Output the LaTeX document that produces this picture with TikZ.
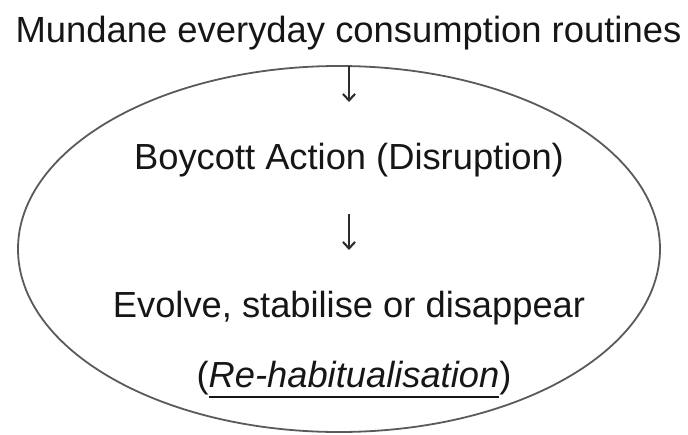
\documentclass[tikz,border=0pt]{standalone}
\usepackage{fontspec}
\setmainfont{Liberation Sans}
\usetikzlibrary{arrows.meta,shapes.geometric}
\definecolor{ink}{HTML}{161616}
\definecolor{rim}{HTML}{5A5A5A}
\newcommand\thickul[1]{\vtop{\hbox{#1}\kern8.5pt\hrule height 2.2pt}}
\begin{document}
\begin{tikzpicture}[x=1pt,y=-1pt,
  lbl/.style={anchor=base,inner sep=0pt,text=ink,font=\fontsize{36.3}{40}\selectfont},
  ttl/.style={anchor=base,inner sep=0pt,text=ink,font=\fontsize{36.4}{42}\selectfont},
  rimline/.style={draw=rim,line width=1.8pt},
  dnarrow/.style={draw=ink!90,line width=2.1pt,-{Straight Barb[length=6.5pt,width=12pt,line width=2.1pt]}}]
\useasboundingbox (0,0) rectangle (688,434);
\node[ellipse,rimline,minimum width=642pt,minimum height=366pt,inner sep=0pt] (ell) at (339,249) {};
\node[ttl] (title) at (348.5,42) {Mundane everyday consumption routines};
\node[lbl] (boy) at (349,169) {Boycott Action (Disruption)};
\node[lbl] (evo) at (349,317) {Evolve, stabilise or disappear};
\node[lbl] (reh) at (354,387) {(\thickul{\textit{Re-habitualisation}})};
\coordinate (a1s) at (349,66);
\coordinate (a1e) at (349,102);
\coordinate (a2s) at (349,214);
\coordinate (a2e) at (349,250);
\draw[dnarrow] (a1s) -- (a1e);
\draw[dnarrow] (a2s) -- (a2e);
\end{tikzpicture}
\end{document}
